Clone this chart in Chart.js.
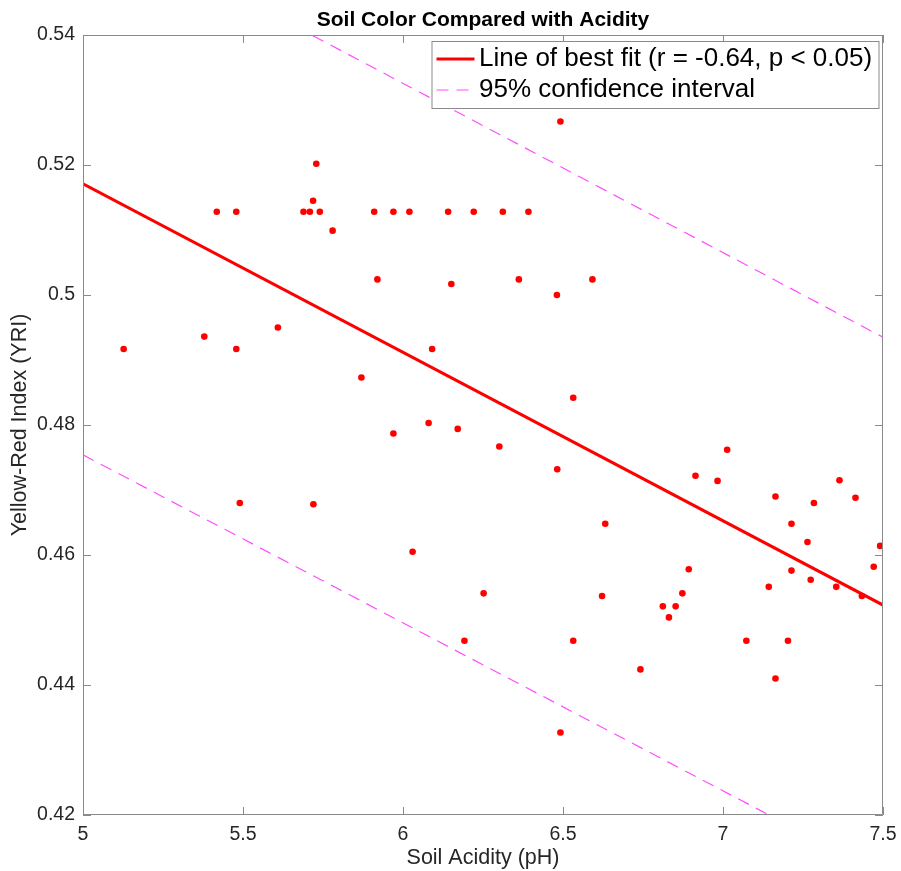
<!DOCTYPE html>
<html>
<head>
<meta charset="utf-8">
<title>Soil Color Compared with Acidity</title>
<script src="https://cdn.jsdelivr.net/npm/chart.js@4.4.0/dist/chart.umd.min.js"></script>
<style>
  html, body { margin: 0; padding: 0; background: #fff; }
</style>
</head>
<body>
<canvas id="soilChart" width="901" height="871"></canvas>
<script>
// measured samples: soil pH vs yellow-red index
const soilPH = [
  5.127, 5.379, 5.418, 5.479, 5.479, 5.490, 5.609, 5.689, 5.709, 5.719,
  5.720, 5.729, 5.740, 5.780, 5.870, 5.910, 5.920, 5.970, 5.970, 6.020,
  6.030, 6.080, 6.091, 6.141, 6.151, 6.171, 6.192, 6.221, 6.252, 6.301,
  6.312, 6.362, 6.392, 6.481, 6.482, 6.492, 6.492, 6.532, 6.532, 6.592,
  6.622, 6.632, 6.742, 6.812, 6.831, 6.852, 6.873, 6.893, 6.914, 6.983,
  7.013, 7.073, 7.143, 7.164, 7.164, 7.203, 7.214, 7.214, 7.264, 7.274,
  7.284, 7.354, 7.364, 7.414, 7.434, 7.471, 7.491
];
const yri = [
  0.4917, 0.4936, 0.5128, 0.5128, 0.4917, 0.4680, 0.4950, 0.5128, 0.5128, 0.5145,
  0.4678, 0.5202, 0.5128, 0.5099, 0.4873, 0.5128, 0.5024, 0.5128, 0.4787, 0.5128,
  0.4605, 0.4803, 0.4917, 0.5128, 0.5017, 0.4794, 0.4468, 0.5128, 0.4541, 0.4767,
  0.5128, 0.5024, 0.5128, 0.5000, 0.4732, 0.5267, 0.4327, 0.4842, 0.4468, 0.5024,
  0.4537, 0.4648, 0.4424, 0.4521, 0.4504, 0.4521, 0.4541, 0.4578, 0.4722, 0.4714,
  0.4762, 0.4468, 0.4551, 0.4690, 0.4410, 0.4468, 0.4648, 0.4576, 0.4620, 0.4562,
  0.4680, 0.4551, 0.4715, 0.4688, 0.4537, 0.4582, 0.4614
];

// regression line and 95% band, at the ends of the x range
const fitX = [5, 7.5];
const fitY = [0.5171, 0.4523];
const ciUpperY = [0.5586, 0.4935];
const ciLowerY = [0.4754, 0.4108];

const xTicks = [5, 5.5, 6, 6.5, 7, 7.5];
const yTicks = [0.42, 0.44, 0.46, 0.48, 0.5, 0.52, 0.54];

const chartTitle = 'Soil Color Compared with Acidity';
const fitLabel = 'Line of best fit (r = -0.64, p < 0.05)';
const ciLabel = '95% confidence interval';

const FONT = "'Liberation Sans', Arial, Helvetica, sans-serif";
const AXIS_GRAY = '#8a8a8a';
const TEXT_GRAY = '#262626';

const toPoints = (xs, ys) => xs.map((v, i) => ({ x: v, y: ys[i] }));

// box around the axes, inward ticks on all four sides, title and legend
const matlabFrame = {
    id: 'matlabFrame',
    afterDatasetsDraw(chart) {
        const { ctx, chartArea: { left, right, top, bottom }, scales: { x, y } } = chart;
        ctx.save();

        ctx.strokeStyle = AXIS_GRAY;
        ctx.lineWidth = 1;
        ctx.beginPath();
        ctx.rect(left + 0.5, top + 0.5, right - left - 1, bottom - top - 1);
        ctx.stroke();

        const tl = 8;
        ctx.beginPath();
        xTicks.forEach(v => {
            const px = Math.round(x.getPixelForValue(v)) + 0.5;
            ctx.moveTo(px, bottom); ctx.lineTo(px, bottom - tl);
            ctx.moveTo(px, top); ctx.lineTo(px, top + tl);
        });
        yTicks.forEach(v => {
            const py = Math.round(y.getPixelForValue(v)) + 0.5;
            ctx.moveTo(left, py); ctx.lineTo(left + tl, py);
            ctx.moveTo(right, py); ctx.lineTo(right - tl, py);
        });
        ctx.stroke();

        // title, centred over the plot area
        ctx.fillStyle = '#000';
        ctx.font = 'bold 21px ' + FONT;
        ctx.textAlign = 'center';
        ctx.textBaseline = 'middle';
        ctx.fillText(chartTitle, (left + right) / 2, top - 15);

        // legend, top right inside the axes
        const ds = chart.data.datasets;
        const bw = 448, bh = 68;
        const bx = right - 3.5 - bw, by = top + 6;
        ctx.fillStyle = '#fff';
        ctx.fillRect(bx, by, bw, bh);
        ctx.strokeStyle = AXIS_GRAY;
        ctx.strokeRect(bx + 0.5, by + 0.5, bw - 1, bh - 1);

        const rows = [ds[1], ds[2]];
        ctx.font = '26px ' + FONT;
        ctx.textAlign = 'left';
        rows.forEach((d, i) => {
            const ry = by + 18 + i * 31;
            ctx.strokeStyle = d.borderColor;
            ctx.lineWidth = d.borderWidth;
            ctx.setLineDash(d.borderDash || []);
            ctx.beginPath();
            ctx.moveTo(bx + 5, ry);
            ctx.lineTo(bx + (d.borderDash ? 40 : 43), ry);
            ctx.stroke();
            ctx.setLineDash([]);
            ctx.fillStyle = '#000';
            ctx.fillText(d.label, bx + 47.5, ry);
        });

        ctx.restore();
    }
};

const ctx = document.getElementById('soilChart').getContext('2d');

const chart = new Chart(ctx, {
    type: 'scatter',
    data: {
        datasets: [{
            label: 'Samples',
            data: toPoints(soilPH, yri),
            backgroundColor: '#ff0000',
            borderWidth: 0,
            pointRadius: 3.3,
            pointHoverRadius: 3.3
        }, {
            type: 'line',
            label: fitLabel,
            data: toPoints(fitX, fitY),
            borderColor: '#ff0000',
            borderWidth: 3,
            pointRadius: 0,
            fill: false,
            clip: 0
        }, {
            type: 'line',
            label: ciLabel,
            data: toPoints(fitX, ciUpperY),
            borderColor: '#ff4dff',
            borderWidth: 1.2,
            borderDash: [12, 8],
            pointRadius: 0,
            fill: false,
            clip: 0
        }, {
            type: 'line',
            label: ciLabel + ' (lower)',
            data: toPoints(fitX, ciLowerY),
            borderColor: '#ff4dff',
            borderWidth: 1.2,
            borderDash: [12, 8],
            pointRadius: 0,
            fill: false,
            clip: 0
        }]
    },
    options: {
        responsive: false,
        animation: false,
        layout: {
            padding: { top: 35, right: 18, bottom: 0, left: 0 }
        },
        scales: {
            x: {
                type: 'linear',
                position: 'bottom',
                min: 5,
                max: 7.5,
                afterBuildTicks: s => { s.ticks = xTicks.map(v => ({ value: v })); },
                afterFit: s => {
                    s.height = 56;
                    s.paddingLeft = 0;
                    s.paddingRight = 0;
                },
                grid: { display: false, drawTicks: false },
                border: { display: false },
                ticks: {
                    padding: 8,
                    color: TEXT_GRAY,
                    font: { family: FONT, size: 19.5 },
                    maxRotation: 0,
                    callback: v => String(v)
                },
                title: {
                    display: true,
                    text: 'Soil Acidity (pH)',
                    color: TEXT_GRAY,
                    font: { family: FONT, size: 21.5 },
                    padding: { top: 0, bottom: 0 }
                }
            },
            y: {
                type: 'linear',
                min: 0.42,
                max: 0.54,
                afterBuildTicks: s => { s.ticks = yTicks.map(v => ({ value: v })); },
                afterFit: s => {
                    s.width = 83;
                    s.paddingTop = 0;
                    s.paddingBottom = 0;
                },
                grid: { display: false, drawTicks: false },
                border: { display: false },
                ticks: {
                    padding: 8,
                    color: TEXT_GRAY,
                    font: { family: FONT, size: 19.5 },
                    callback: v => String(Number(v.toFixed(2)))
                },
                title: {
                    display: true,
                    text: 'Yellow-Red Index (YRI)',
                    color: TEXT_GRAY,
                    font: { family: FONT, size: 21.5 },
                    padding: { top: 7, bottom: 7 }
                }
            }
        },
        plugins: {
            legend: { display: false },
            title: { display: false },
            tooltip: { enabled: false }
        }
    },
    plugins: [matlabFrame]
});
</script>
</body>
</html>
